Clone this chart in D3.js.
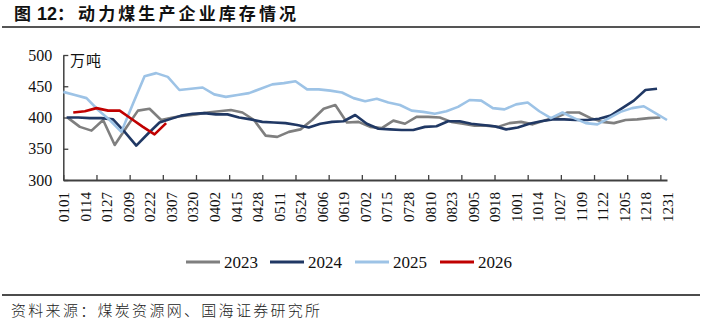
<!DOCTYPE html>
<html>
<head>
<meta charset="utf-8">
<script src="https://cdn.jsdelivr.net/npm/d3@7/dist/d3.min.js"></script>
<style>
  html, body { margin: 0; padding: 0; background: #fff; }
  svg { display: block; }
</style>
</head>
<body>
<svg id="chart" width="702" height="326"></svg>
<script>
// ---------- data ----------
const seriesNames = ["2023", "2024", "2025", "2026"];
const seriesStart = ["2023-01-04", "2024-01-03", "2025-01-01", "2026-01-07"]; // weekly (Wednesday) data
const v2023 = [399, 385, 379, 396, 356, 384, 411, 414, 396, 400, 403, 405, 408, 410, 412, 408, 396, 371, 369, 377,
  381, 396, 414, 420, 392, 393, 385, 383, 395, 390, 401, 401, 400, 393, 390, 387, 387, 385, 391, 393,
  389, 395, 400, 408, 408, 399, 393, 391, 396, 397, 399, 400];
const v2024 = [400, 400, 399, 399, 397, 377, 355, 374, 392, 397, 403, 406, 407, 405, 405, 400, 397, 393, 392, 391,
  388, 384, 390, 393, 394, 404, 390, 382, 381, 380, 380, 385, 386, 394, 394, 390, 388, 386, 381, 384,
  390, 394, 397, 397, 396, 396, 398, 403, 415, 427, 444, 446];
const v2025 = [441, 436, 431, 412, 396, 377, 422, 466, 471, 465, 444, 446, 448, 437, 433, 436, 439, 446, 453, 455,
  458, 445, 445, 443, 440, 431, 426, 430, 424, 420, 411, 409, 406, 410, 417, 428, 427, 415, 413, 421,
  424, 410, 399, 408, 399, 391, 389, 399, 409, 415, 418, 407, 396];
const v2026 = [408, 410, 415, 411, 411, 398, 385, 373, 391];
const seriesValues = [v2023, v2024, v2025, v2026];
const seriesColors = ["#7f7f7f", "#203864", "#9dc3e6", "#c00000"];
const xLabels = ["0101","0114","0127","0209","0222","0307","0320","0402","0415","0428","0511","0524","0606","0619",
  "0702","0715","0728","0810","0823","0905","0918","1001","1014","1027","1109","1122","1205","1218","1231"];
const yTicks = [300, 350, 400, 450, 500];
const titleText = ["图", "12", "：", "动力煤生产企业库存情况"];
const unitText = "万吨";
const sourceText = "资料来源：煤炭资源网、国海证券研究所";

// ---------- layout ----------
const svg = d3.select("#chart");
const L = 63.3, R = 667, T = 55, B = 180;
const serif = "'Liberation Serif','Times New Roman',serif";
const cjk = "'Noto Sans CJK SC','Noto Sans',sans-serif";

const parse = d3.timeParse("%Y-%m-%d");
const toAxisDate = d => new Date(2025, d.getMonth(), d.getDate());
const x = d3.scaleTime().domain([new Date(2025, 0, 1), new Date(2025, 11, 31)]).range([L, R]);
const y = d3.scaleLinear().domain([300, 500]).range([B, T]);

// title
const title = svg.append("text").attr("x", 14).attr("y", 20)
  .attr("font-weight", "bold").attr("fill", "#111").attr("font-size", 17);
title.append("tspan").attr("font-family", cjk).text(titleText[0]);
title.append("tspan").attr("dx", 6).attr("font-family", "'Liberation Sans',Arial,sans-serif").attr("font-size", 18).text(titleText[1]);
title.append("tspan").attr("font-family", cjk).attr("letter-spacing", 4).text(titleText[2]);
title.append("tspan").attr("font-family", cjk).attr("letter-spacing", 3.1).text(titleText[3]);
svg.append("line").attr("x1", 2).attr("x2", 700).attr("y1", 27).attr("y2", 27)
  .attr("stroke", "#555").attr("stroke-width", 2);

// x-axis: tick marks every 20 days (inside), labels every 13 days
const tickDates = d3.range(0, 365, 20).map(d => d3.timeDay.offset(new Date(2025, 0, 1), d));
const xAxisTicks = svg.append("g").attr("transform", `translate(0,${B})`)
  .call(d3.axisBottom(x).tickValues(tickDates).tickSizeInner(-5).tickSizeOuter(0).tickFormat(""));
xAxisTicks.select(".domain").attr("stroke", "#404040").attr("stroke-width", 2);
xAxisTicks.selectAll(".tick line").attr("stroke", "#404040").attr("stroke-width", 1.3);

const labelDates = xLabels.map(s => new Date(2025, +s.slice(0, 2) - 1, +s.slice(2)));
const xAxisLabels = svg.append("g").attr("transform", `translate(0,${B})`)
  .call(d3.axisBottom(x).tickValues(labelDates).tickSize(0).tickFormat((d, i) => xLabels[i]));
xAxisLabels.select(".domain").remove();
xAxisLabels.selectAll("text")
  .attr("transform", "rotate(-90)")
  .attr("x", -12).attr("y", 0).attr("dy", "0.35em")
  .attr("text-anchor", "end")
  .attr("font-family", serif).attr("font-size", 15).attr("fill", "#111");

// y-axis
const yAxis = svg.append("g").attr("transform", `translate(${L},0)`)
  .call(d3.axisLeft(y).tickValues(yTicks).tickSizeInner(-5).tickSizeOuter(0).tickPadding(11));
yAxis.select(".domain").attr("stroke", "#404040").attr("stroke-width", 1.5);
yAxis.selectAll(".tick line").attr("stroke", "#404040").attr("stroke-width", 1.3);
yAxis.selectAll("text").attr("font-family", serif).attr("font-size", 16).attr("fill", "#111");

svg.append("text").attr("x", 70).attr("y", 66).attr("font-family", cjk).attr("font-size", 15)
  .attr("letter-spacing", 1).attr("fill", "#111").text(unitText);

// lines
const line = d3.line().x(d => x(d.date)).y(d => y(d.value));
seriesNames.forEach((name, k) => {
  const start = parse(seriesStart[k]);
  const pts = seriesValues[k].map((v, i) => ({ date: toAxisDate(d3.timeWeek.offset(start, i)), value: v }));
  svg.append("path").datum(pts).attr("d", line)
    .attr("fill", "none").attr("stroke", seriesColors[k]).attr("stroke-width", 2.6)
    .attr("stroke-linejoin", "round");
});

// legend
const legendX = [186, 270, 355, 440];
const lg = svg.append("g");
seriesNames.forEach((name, k) => {
  lg.append("line").attr("x1", legendX[k]).attr("x2", legendX[k] + 34).attr("y1", 262).attr("y2", 262)
    .attr("stroke", seriesColors[k]).attr("stroke-width", 3);
  lg.append("text").attr("x", legendX[k] + 38).attr("y", 267.5)
    .attr("font-family", serif).attr("font-size", 17).attr("fill", "#111").text(name);
});

// source
svg.append("line").attr("x1", 2).attr("x2", 700).attr("y1", 295).attr("y2", 295)
  .attr("stroke", "#111").attr("stroke-width", 1.3);
svg.append("text").attr("x", 11).attr("y", 316).attr("font-family", cjk).attr("font-size", 15)
  .attr("letter-spacing", 2.3).attr("fill", "#222").attr("font-weight", 300).text(sourceText);
</script>
</body>
</html>
